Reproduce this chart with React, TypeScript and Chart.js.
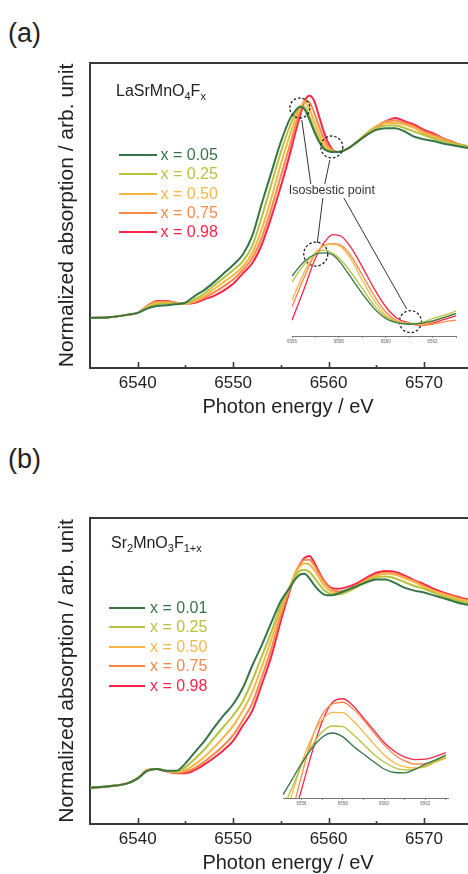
import React, { useEffect, useRef } from 'react';
import { Chart, registerables } from 'chart.js';

Chart.register(...registerables);

const FONT = '"Liberation Sans", Arial, Helvetica, sans-serif';
const AXIS = '#3a3a3a';
const SERIES_COLORS = ['#357548', '#b8c23f', '#f6b746', '#f7894a', '#fd2448'];

// ---------- shared main energy grid (eV) ----------
const energy = [6535, 6537, 6539, 6540, 6541, 6542, 6543, 6544, 6545, 6546, 6547, 6548, 6549, 6550, 6551, 6552, 6553, 6554, 6555, 6556,
  6556.5, 6557, 6557.5, 6558, 6558.5, 6559, 6559.5, 6560, 6560.5, 6561,
  6562, 6563, 6564, 6565, 6566, 6567, 6568, 6569, 6570, 6571, 6572, 6573, 6574, 6575];

const xMajorTicks = [6540, 6550, 6560, 6570];
const xMinorTicks = [6545, 6555, 6565];
const insetTicksA = [6556, 6557, 6558, 6559, 6560, 6561, 6562, 6563];
const insetTicksB = [6556, 6557, 6558, 6559, 6560, 6561, 6562, 6563];

// ---------- panel (a): LaSrMnO4Fx ----------
const labelsA = ['x = 0.05', 'x = 0.25', 'x = 0.50', 'x = 0.75', 'x = 0.98'];
const aX005 = [0, 0.005, 0.02, 0.03, 0.055, 0.07, 0.075, 0.08, 0.09, 0.13, 0.165, 0.21, 0.26, 0.31, 0.37, 0.48, 0.67, 0.85, 1.03, 1.17,
  1.21, 1.235, 1.22, 1.16, 1.09, 1.03, 0.99, 0.975, 0.97, 0.97,
  0.99, 1.03, 1.07, 1.10, 1.11, 1.11, 1.09, 1.06, 1.045, 1.035, 1.02, 1.01, 1.0, 0.99];
const aX025 = [0, 0.005, 0.02, 0.03, 0.06, 0.08, 0.085, 0.085, 0.085, 0.11, 0.145, 0.19, 0.235, 0.28, 0.33, 0.42, 0.59, 0.78, 0.97, 1.13,
  1.19, 1.235, 1.235, 1.18, 1.11, 1.05, 1.0, 0.98, 0.97, 0.97,
  0.99, 1.03, 1.08, 1.11, 1.125, 1.125, 1.11, 1.09, 1.07, 1.05, 1.035, 1.02, 1.01, 1.0];
const aX050 = [0, 0.005, 0.02, 0.03, 0.065, 0.09, 0.09, 0.085, 0.085, 0.10, 0.13, 0.17, 0.21, 0.25, 0.30, 0.38, 0.52, 0.70, 0.90, 1.08,
  1.16, 1.23, 1.26, 1.22, 1.15, 1.08, 1.02, 0.99, 0.97, 0.97,
  0.99, 1.03, 1.08, 1.12, 1.14, 1.14, 1.13, 1.11, 1.08, 1.06, 1.04, 1.02, 1.01, 1.0];
const aX075 = [0, 0.005, 0.02, 0.03, 0.07, 0.095, 0.095, 0.09, 0.085, 0.095, 0.12, 0.15, 0.185, 0.225, 0.28, 0.35, 0.47, 0.64, 0.83, 1.02,
  1.12, 1.21, 1.27, 1.26, 1.20, 1.12, 1.05, 1.0, 0.98, 0.97,
  0.99, 1.03, 1.08, 1.12, 1.15, 1.155, 1.14, 1.12, 1.09, 1.07, 1.05, 1.03, 1.01, 1.0];
const aX098 = [0, 0.005, 0.02, 0.03, 0.07, 0.10, 0.10, 0.09, 0.085, 0.09, 0.11, 0.13, 0.16, 0.20, 0.26, 0.32, 0.43, 0.59, 0.77, 0.97,
  1.08, 1.18, 1.27, 1.30, 1.27, 1.18, 1.09, 1.02, 0.98, 0.97,
  0.99, 1.03, 1.07, 1.11, 1.15, 1.17, 1.15, 1.13, 1.10, 1.08, 1.05, 1.03, 1.01, 1.0];

// inset (a)
const insetEnergyA = [6556, 6556.5, 6557, 6557.4, 6557.75, 6558.1, 6558.5, 6559, 6559.5, 6560, 6560.5, 6561, 6561.5, 6562, 6562.5, 6563];
const iaX005 = [1.144, 1.196, 1.224, 1.229, 1.221, 1.190, 1.141, 1.080, 1.026, 0.989, 0.973, 0.968, 0.971, 0.980, 0.993, 1.007];
const iaX025 = [1.123, 1.184, 1.227, 1.239, 1.227, 1.202, 1.160, 1.099, 1.038, 0.995, 0.975, 0.971, 0.973, 0.989, 1.001, 1.016];
const iaX050 = [1.056, 1.154, 1.227, 1.257, 1.260, 1.251, 1.209, 1.129, 1.056, 1.001, 0.977, 0.971, 0.968, 0.977, 0.993, 1.007];
const iaX075 = [1.032, 1.135, 1.227, 1.257, 1.263, 1.257, 1.221, 1.148, 1.074, 1.013, 0.980, 0.971, 0.964, 0.968, 0.977, 0.983];
const iaX098 = [0.983, 1.093, 1.209, 1.270, 1.296, 1.290, 1.251, 1.178, 1.099, 1.032, 0.989, 0.973, 0.964, 0.973, 0.986, 0.999];

// ---------- panel (b): Sr2MnO3F1+x ----------
const labelsB = ['x = 0.01', 'x = 0.25', 'x = 0.50', 'x = 0.75', 'x = 0.98'];
const bX001 = [0, 0.008, 0.025, 0.05, 0.09, 0.10, 0.09, 0.09, 0.13, 0.19, 0.25, 0.32, 0.385, 0.445, 0.53, 0.65, 0.76, 0.88, 0.995, 1.07,
  1.11, 1.135, 1.14, 1.115, 1.08, 1.05, 1.03, 1.025, 1.027, 1.035,
  1.055, 1.075, 1.095, 1.11, 1.11, 1.09, 1.065, 1.05, 1.04, 1.025, 1.01, 0.995, 0.98, 0.97];
const bX025 = [0, 0.008, 0.025, 0.05, 0.092, 0.10, 0.09, 0.085, 0.11, 0.155, 0.205, 0.265, 0.325, 0.385, 0.46, 0.57, 0.70, 0.83, 0.97, 1.075,
  1.125, 1.155, 1.16, 1.15, 1.12, 1.085, 1.055, 1.037, 1.03, 1.03,
  1.045, 1.07, 1.10, 1.12, 1.125, 1.115, 1.095, 1.075, 1.06, 1.04, 1.02, 1.005, 0.99, 0.98];
const bX050 = [0, 0.008, 0.025, 0.05, 0.093, 0.10, 0.09, 0.083, 0.095, 0.125, 0.165, 0.215, 0.27, 0.33, 0.41, 0.51, 0.645, 0.79, 0.95, 1.08,
  1.14, 1.18, 1.195, 1.19, 1.16, 1.12, 1.08, 1.055, 1.04, 1.037,
  1.05, 1.075, 1.105, 1.13, 1.14, 1.135, 1.115, 1.095, 1.07, 1.05, 1.03, 1.015, 1.0, 0.99];
const bX075 = [0, 0.008, 0.025, 0.05, 0.095, 0.10, 0.088, 0.08, 0.085, 0.105, 0.14, 0.18, 0.225, 0.28, 0.36, 0.45, 0.59, 0.74, 0.92, 1.07,
  1.14, 1.19, 1.215, 1.215, 1.185, 1.14, 1.10, 1.07, 1.052, 1.046,
  1.055, 1.08, 1.11, 1.135, 1.145, 1.14, 1.12, 1.10, 1.075, 1.05, 1.035, 1.02, 1.005, 0.995];
const bX098 = [0, 0.007, 0.025, 0.05, 0.095, 0.10, 0.088, 0.078, 0.078, 0.095, 0.125, 0.16, 0.20, 0.25, 0.33, 0.41, 0.55, 0.70, 0.89, 1.06,
  1.14, 1.19, 1.225, 1.235, 1.20, 1.15, 1.105, 1.075, 1.062, 1.06,
  1.07, 1.09, 1.12, 1.145, 1.155, 1.15, 1.13, 1.105, 1.085, 1.06, 1.04, 1.025, 1.01, 1.0];

// inset (b)
const insetEnergyB = [6555.1, 6555.5, 6556, 6556.5, 6557, 6557.5, 6558, 6558.5, 6559, 6559.5, 6560, 6560.5, 6561, 6561.5, 6562, 6562.5, 6563];
const ibX001 = [0.96, 1.0, 1.05, 1.093, 1.125, 1.137, 1.126, 1.10, 1.077, 1.055, 1.034, 1.024, 1.023, 1.033, 1.048, 1.06, 1.074];
const ibX025 = [0.92, 0.975, 1.045, 1.10, 1.14, 1.157, 1.155, 1.133, 1.105, 1.076, 1.054, 1.038, 1.031, 1.034, 1.043, 1.055, 1.069];
const ibX050 = [0.88, 0.955, 1.05, 1.125, 1.175, 1.196, 1.195, 1.172, 1.14, 1.106, 1.075, 1.052, 1.04, 1.037, 1.04, 1.054, 1.065];
const ibX075 = [0.81, 0.90, 1.015, 1.12, 1.19, 1.22, 1.225, 1.206, 1.175, 1.138, 1.103, 1.075, 1.057, 1.048, 1.049, 1.058, 1.069];
const ibX098 = [0.78, 0.87, 0.975, 1.08, 1.17, 1.225, 1.235, 1.215, 1.18, 1.145, 1.11, 1.085, 1.068, 1.061, 1.062, 1.07, 1.081];

// ---------- helpers ----------
function buildDatasets(xs: number[], series: number[][], width: number) {
  return series.map((vals, i) => ({
    label: String(i),
    data: xs.map((x, j) => ({ x, y: vals[j] })),
    borderColor: SERIES_COLORS[i],
    backgroundColor: SERIES_COLORS[i],
    borderWidth: width,
    pointRadius: 0,
    cubicInterpolationMode: 'monotone' as const,
    fill: false,
  }));
}

const framePlugin = {
  id: 'frame',
  afterDraw(chart: any) {
    const { ctx, chartArea, scales } = chart;
    const { left, right, top, bottom } = chartArea;
    const x = scales.x;
    ctx.save();
    ctx.strokeStyle = AXIS;
    ctx.lineWidth = 2;
    ctx.beginPath();
    ctx.moveTo(left - 1, top);
    ctx.lineTo(right, top);
    ctx.lineTo(right, bottom);
    ctx.stroke();
    ctx.lineWidth = 1.6;
    ctx.beginPath();
    for (const v of xMajorTicks) {
      const p = Math.round(x.getPixelForValue(v)) + 0.5;
      ctx.moveTo(p, bottom);
      ctx.lineTo(p, bottom - 6);
    }
    for (const v of xMinorTicks) {
      const p = Math.round(x.getPixelForValue(v)) + 0.5;
      ctx.moveTo(p, bottom);
      ctx.lineTo(p, bottom - 3);
    }
    ctx.stroke();
    ctx.restore();
  },
};

const isosbesticPlugin = {
  id: 'isosbestic',
  afterDraw(chart: any) {
    const { ctx, scales } = chart;
    const P = (e: number, v: number) => [scales.x.getPixelForValue(e), scales.y.getPixelForValue(v)];
    const circles = [
      { e: 6556.99, v: 1.228, r: 10 },
      { e: 6560.34, v: 1.0, r: 11 },
      { e: 6558.66, v: 0.374, r: 12 },
      { e: 6568.58, v: -0.021, r: 11 },
    ];
    const leaders = [
      [6557.2, 1.158, 6558.14, 0.784],
      [6560.13, 0.924, 6559.61, 0.784],
      [6559.4, 0.702, 6558.82, 0.439],
      [6561.6, 0.702, 6568.19, 0.053],
    ];
    ctx.save();
    ctx.strokeStyle = '#333';
    ctx.lineWidth = 1;
    ctx.beginPath();
    for (const l of leaders) {
      const [x1, y1] = P(l[0], l[1]);
      const [x2, y2] = P(l[2], l[3]);
      ctx.moveTo(x1, y1);
      ctx.lineTo(x2, y2);
    }
    ctx.stroke();
    ctx.setLineDash([2.5, 2]);
    ctx.lineWidth = 1.3;
    ctx.strokeStyle = '#222';
    for (const c of circles) {
      const [px, py] = P(c.e, c.v);
      ctx.beginPath();
      ctx.arc(px, py, c.r, 0, Math.PI * 2);
      ctx.stroke();
    }
    ctx.setLineDash([]);
    ctx.fillStyle = '#333';
    ctx.font = `12.5px ${FONT}`;
    ctx.textAlign = 'center';
    ctx.textBaseline = 'middle';
    const [tx, ty] = P(6560.34, 0.746);
    ctx.fillText('Isosbestic point', tx, ty);
    ctx.restore();
  },
};

function MainChart(props: { top: number; padTop: number; series: number[][]; yMin: number; yMax: number; annotate?: boolean }) {
  const ref = useRef<HTMLCanvasElement>(null);
  useEffect(() => {
    const plugins: any[] = [framePlugin];
    if (props.annotate) plugins.push(isosbesticPlugin);
    const chart = new Chart(ref.current as HTMLCanvasElement, {
      type: 'line',
      data: { datasets: buildDatasets(energy, props.series, 2) as any },
      options: {
        animation: false,
        responsive: false,
        devicePixelRatio: 1,
        events: [],
        layout: { padding: { top: props.padTop, right: 8, left: 0, bottom: 0 } },
        plugins: { legend: { display: false }, tooltip: { enabled: false } },
        scales: {
          x: {
            type: 'linear',
            min: 6535,
            max: 6576.5,
            afterBuildTicks: (s: any) => { s.ticks = xMajorTicks.map((v) => ({ value: v })); },
            afterFit: (s: any) => { s.height = 52; },
            grid: { display: false, drawTicks: false },
            border: { display: true, color: AXIS, width: 2 },
            ticks: {
              autoSkip: false,
              maxRotation: 0,
              padding: 5,
              color: '#222',
              font: { family: FONT, size: 17 },
              callback: (v: any) => String(v),
            },
            title: {
              display: true,
              text: 'Photon energy / eV',
              color: '#222',
              font: { family: FONT, size: 20 },
              padding: { top: 0, bottom: 1 },
            },
          },
          y: {
            type: 'linear',
            min: props.yMin,
            max: props.yMax,
            afterFit: (s: any) => { s.width = 90; },
            grid: { display: false, drawTicks: false },
            border: { display: true, color: AXIS, width: 2 },
            ticks: { display: false },
            title: {
              display: true,
              text: 'Normalized absorption / arb. unit',
              color: '#222',
              font: { family: FONT, size: 21 },
              padding: { top: 55, bottom: 0 },
            },
          },
        },
      } as any,
      plugins,
    });
    return () => chart.destroy();
  }, []);
  return (
    <canvas
      ref={ref}
      width={494}
      height={420}
      style={{ position: 'absolute', left: 0, top: props.top, width: 494, height: 420 }}
    />
  );
}

function InsetChart(props: { left: number; top: number; width: number; height: number; xs: number[]; series: number[][]; ticks: number[]; xMin: number; xMax: number; yMin: number; yMax: number }) {
  const ref = useRef<HTMLCanvasElement>(null);
  useEffect(() => {
    const chart = new Chart(ref.current as HTMLCanvasElement, {
      type: 'line',
      data: { datasets: buildDatasets(props.xs, props.series, 1.3) as any },
      options: {
        animation: false,
        responsive: false,
        devicePixelRatio: 1,
        events: [],
        layout: { padding: { top: 2, right: 10, left: 10, bottom: 0 } },
        plugins: { legend: { display: false }, tooltip: { enabled: false } },
        scales: {
          x: {
            type: 'linear',
            min: props.xMin,
            max: props.xMax,
            afterBuildTicks: (s: any) => { s.ticks = props.ticks.map((v) => ({ value: v })); },
            afterFit: (s: any) => { s.height = 10; },
            grid: { display: true, drawOnChartArea: false, drawTicks: true, tickLength: 2, color: '#777', lineWidth: 0.8 },
            border: { display: true, color: '#777', width: 1 },
            ticks: {
              autoSkip: false,
              maxRotation: 0,
              padding: 1,
              color: '#666',
              font: { family: FONT, size: 4.5 },
              callback: (v: any) => (Math.round(v) % 2 === 0 ? String(v) : ''),
            },
          },
          y: { type: 'linear', display: false, min: props.yMin, max: props.yMax },
        },
      } as any,
    });
    return () => chart.destroy();
  }, []);
  return (
    <canvas
      ref={ref}
      width={props.width}
      height={props.height}
      style={{ position: 'absolute', left: props.left, top: props.top, width: props.width, height: props.height }}
    />
  );
}

function Legend(props: { labels: string[]; rows: number[]; lineLeft: number; lineWidth: number; textLeft: number }) {
  return (
    <>
      {props.labels.map((lab, i) => (
        <React.Fragment key={lab + i}>
          <div
            style={{
              position: 'absolute',
              left: props.lineLeft,
              top: props.rows[i] - 1,
              width: props.lineWidth,
              height: 2,
              background: SERIES_COLORS[i],
            }}
          />
          <div
            style={{
              position: 'absolute',
              left: props.textLeft,
              top: props.rows[i] - 10,
              height: 20,
              lineHeight: '20px',
              fontSize: 16,
              color: SERIES_COLORS[i],
              whiteSpace: 'nowrap',
            }}
          >
            {lab}
          </div>
        </React.Fragment>
      ))}
    </>
  );
}

const subStyle: React.CSSProperties = { fontSize: 11, verticalAlign: '-4px', lineHeight: 0 };

export default function App() {
  return (
    <div
      style={{
        position: 'absolute',
        left: 0,
        top: 0,
        width: 468,
        height: 874,
        overflow: 'hidden',
        background: '#fff',
        fontFamily: FONT,
        color: '#222',
      }}
    >
      <div style={{ position: 'absolute', left: 8, top: 20, fontSize: 27, lineHeight: '27px' }}>(a)</div>
      <div style={{ position: 'absolute', left: 8, top: 446, fontSize: 27, lineHeight: '27px' }}>(b)</div>

      <MainChart top={0} padTop={63} series={[aX005, aX025, aX050, aX075, aX098]} yMin={-0.292} yMax={1.491} annotate />
      <InsetChart
        left={282}
        top={226}
        width={184}
        height={120}
        xs={insetEnergyA}
        series={[iaX005, iaX025, iaX050, iaX075, iaX098]}
        ticks={insetTicksA}
        xMin={6556}
        xMax={6563}
        yMin={0.925}
        yMax={1.32}
      />
      <div style={{ position: 'absolute', left: 116, top: 81, fontSize: 16, lineHeight: '20px', whiteSpace: 'nowrap' }}>
        LaSrMnO<sub style={subStyle}>4</sub>F<sub style={subStyle}>x</sub>
      </div>
      <Legend labels={labelsA} rows={[155, 174.3, 193.5, 212.7, 232]} lineLeft={119} lineWidth={38} textLeft={160.5} />

      <MainChart top={456} padTop={62} series={[bX001, bX025, bX050, bX075, bX098]} yMin={-0.193} yMax={1.437} />
      <InsetChart
        left={273}
        top={688}
        width={185}
        height={120}
        xs={insetEnergyB}
        series={[ibX001, ibX025, ibX050, ibX075, ibX098]}
        ticks={insetTicksB}
        xMin={6555.1}
        xMax={6563.1}
        yMin={0.951}
        yMax={1.26}
      />
      <div style={{ position: 'absolute', left: 111, top: 533, fontSize: 16, lineHeight: '20px', whiteSpace: 'nowrap' }}>
        Sr<sub style={subStyle}>2</sub>MnO<sub style={subStyle}>3</sub>F<sub style={subStyle}>1+x</sub>
      </div>
      <Legend labels={labelsB} rows={[607.7, 627.3, 646.7, 666, 686]} lineLeft={109} lineWidth={36} textLeft={150} />
    </div>
  );
}
